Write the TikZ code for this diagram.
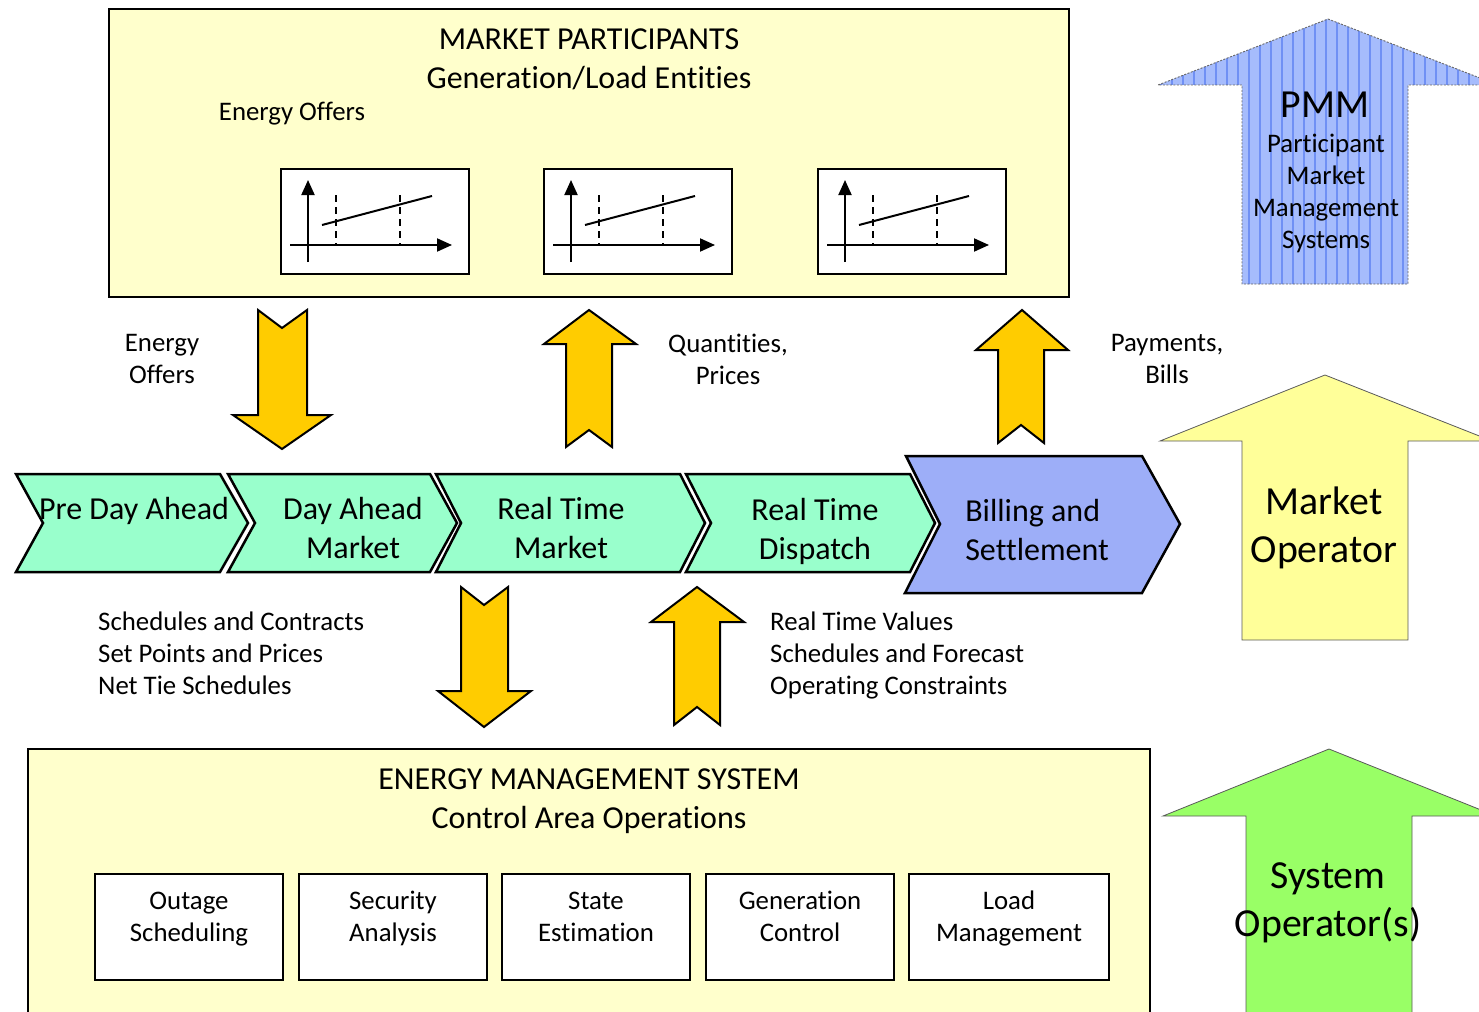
\documentclass[tikz,border=0pt]{standalone}
\usepackage{fontspec}
\setmainfont{Carlito}[Ligatures=NoCommon]
\usetikzlibrary{arrows.meta}

\definecolor{paleyellow}{HTML}{FFFFCC}
\definecolor{flowgold}{HTML}{FFCC00}
\definecolor{mint}{HTML}{99FFCC}
\definecolor{billblue}{HTML}{9DAEF8}
\definecolor{pmmblue}{HTML}{A6BCFC}
\definecolor{pmmstripe}{HTML}{7090F4}
\definecolor{moyellow}{HTML}{FFFF99}
\definecolor{sogreen}{HTML}{99FF66}

\newcommand\fsz[2]{\fontsize{#1}{#2}\selectfont}

\begin{document}
\begin{tikzpicture}[x=1pt,y=-1pt,
  panel/.style={draw=black,line width=2pt,fill=paleyellow},
  chartbox/.style={draw=black,line width=2pt,fill=white,minimum width=188pt,minimum height=105pt,inner sep=0pt},
  opbox/.style={draw=black,line width=2pt,fill=white,minimum width=188pt,minimum height=106pt,inner sep=0pt},
  flow/.style={draw=black,line width=2pt,fill=flowgold,line join=miter},
  stage/.style={draw=black,line width=2.5pt,fill=mint,line join=miter},
  role/.style={draw=black!65,line width=0.8pt},
  title/.style={font=\fsz{32}{39},align=center,inner sep=0pt},
  small/.style={font=\fsz{26.8}{32},align=center,inner sep=0pt},
  big/.style={font=\fsz{39.8}{48},align=center,inner sep=0pt},
  axis/.style={line width=2pt,-{Triangle[length=15pt,width=13pt]}},
  guide/.style={line width=2pt,dash pattern=on 7pt off 5pt},
  curve/.style={line width=2pt},
]
\useasboundingbox (0,0) rectangle (1479,1011);
\clip (0,0) rectangle (1479,1011);

% ---------- market participants panel ----------
\draw[panel] (109,9) rectangle (1069,297);
\node[title] (mptitle) at (589,59) {MARKET PARTICIPANTS\\Generation/Load Entities};
\node[small] (offers) at (292,114) {Energy Offers};

\foreach \bx/\nm in {280/c1,543/c2,817/c3}{
  \node[chartbox,anchor=north west] (\nm) at (\bx,168) {};
  \begin{scope}[shift={(\bx,0)}]
    \draw[axis] (28,262) -- (28,180);
    \draw[axis] (10,245) -- (172,245);
    \draw[guide] (56,195) -- (56,245);
    \draw[guide] (120,195) -- (120,245);
    \draw[curve] (42,225) -- (152,196);
  \end{scope}
}

% ---------- information flows between layers ----------
\draw[flow] (258,310) -- (282,328) -- (307,310) -- (307,415) -- (331,415)
  -- (282,449) -- (233,415) -- (258,415) -- cycle;
\draw[flow] (589,310) -- (636,344) -- (612,344) -- (612,447) -- (589,430)
  -- (566,447) -- (566,344) -- (544,344) -- cycle;
\draw[flow] (1022,310) -- (1068,350) -- (1044,350) -- (1044,443) -- (1021,425)
  -- (998,443) -- (998,350) -- (976,350) -- cycle;
\draw[flow] (461,587) -- (484,605) -- (508,587) -- (508,691) -- (531,691)
  -- (484,727) -- (438,691) -- (461,691) -- cycle;
\draw[flow] (697,587) -- (744,622) -- (720,622) -- (720,725) -- (697,707)
  -- (674,725) -- (674,622) -- (651,622) -- cycle;

\node[small] (lbloffers) at (162,359) {Energy\\Offers};
\node[small] (lblqty) at (728,359) {Quantities,\\Prices};
\node[small] (lblpay) at (1167,359) {Payments,\\Bills};
\node[small,align=left,anchor=west] (lblsched) at (98,653)
  {Schedules and Contracts\\Set Points and Prices\\Net Tie Schedules};
\node[small,align=left,anchor=west] (lblrt) at (770,655)
  {Real Time Values\\Schedules and Forecast\\Operating Constraints};

% ---------- market timeline ----------
\draw[stage] (16,474) -- (220,474) -- (248,523) -- (220,572) -- (16,572) -- (43,523) -- cycle;
\draw[stage] (228,474) -- (430,474) -- (457,523) -- (430,572) -- (228,572) -- (255,523) -- cycle;
\draw[stage] (436,474) -- (680,474) -- (705,523) -- (680,572) -- (436,572) -- (461,523) -- cycle;
\draw[stage] (686,474) -- (910,474) -- (935,523) -- (910,572) -- (686,572) -- (711,523) -- cycle;
\draw[stage,fill=billblue] (906,456) -- (1142,456) -- (1180,524) -- (1142,593) -- (905,593) -- (940,524) -- cycle;

\node[title] (pda) at (134,511) {Pre Day Ahead};
\node[title] (dam) at (353,528) {Day Ahead\\Market};
\node[title] (rtm) at (561,528) {Real Time\\Market};
\node[title] (rtd) at (815,531) {Real Time\\Dispatch};
\node[title,align=left] (bill) at (1037,530) {Billing and\\Settlement};

% ---------- energy management system panel ----------
\draw[panel] (28,749) rectangle (1150,1040);
\node[title] (emstitle) at (589,801) {ENERGY MANAGEMENT SYSTEM\\Control Area Operations};

\node[opbox,anchor=north west] (o1) at (94,873) {};
\node[opbox,anchor=north west] (o2) at (298,873) {};
\node[opbox,anchor=north west] (o3) at (501,873) {};
\node[opbox,anchor=north west] (o4) at (705,873) {};
\node[opbox,anchor=north west,minimum width=200pt] (o5) at (908,873) {};
\node[small] (t1) at ([yshift=8pt]o1.center) {Outage\\Scheduling};
\node[small] (t2) at ([yshift=9pt]o2.center) {Security\\Analysis};
\node[small] (t3) at ([yshift=10pt]o3.center) {State\\Estimation};
\node[small] (t4) at ([yshift=11pt]o4.center) {Generation\\Control};
\node[small] (t5) at ([yshift=9pt]o5.center) {Load\\Management};

% ---------- roles ----------
\begin{scope}
  \clip (1328,19) -- (1498,85) -- (1408,85) -- (1408,284) -- (1242,284) -- (1242,85) -- (1158,85) -- cycle;
  \fill[pmmblue] (1150,10) rectangle (1479,290);
  \foreach \x in {1161,1172,...,1479}
    \draw[pmmstripe,line width=1.3pt] (\x,10) -- (\x,290);
\end{scope}
\draw[draw=black!60,line width=0.9pt,dash pattern=on 2pt off 1.5pt]
  (1328,19) -- (1498,85) -- (1408,85) -- (1408,284) -- (1242,284) -- (1242,85) -- (1158,85) -- cycle;
\node[big] (pmm) at (1325,105) {PMM};
\node[small] (pmmtext) at (1326,193) {Participant\\Market\\Management\\Systems};

\draw[role,fill=moyellow] (1325,375) -- (1492,441) -- (1408,441) -- (1408,640)
  -- (1242,640) -- (1242,441) -- (1160,441) -- cycle;
\node[big] (mo) at (1324,528) {Market\\Operator};

\draw[role,fill=sogreen] (1329,749) -- (1496,816) -- (1412,816) -- (1412,1040)
  -- (1246,1040) -- (1246,816) -- (1163,816) -- cycle;
\node[big] (so) at (1328,903) {System\\Operator(s)};
\end{tikzpicture}
\end{document}
